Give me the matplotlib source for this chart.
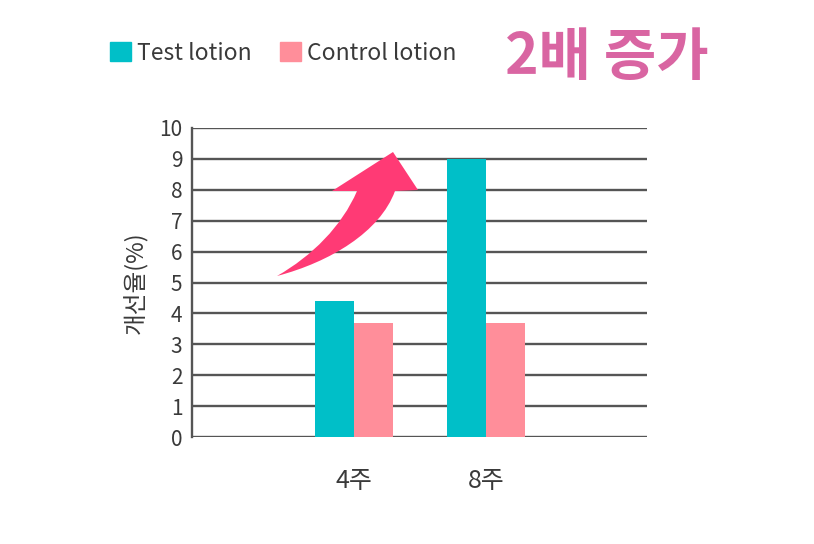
import numpy as np
import matplotlib.pyplot as plt
from matplotlib.path import Path
from matplotlib.patches import PathPatch, Patch

plt.rcParams["font.family"] = ["Noto Sans CJK KR", "DejaVu Sans"]

categories = ["4주", "8주"]
test_lotion = [4.4, 9.0]
control_lotion = [3.7, 3.7]
series_names = ["Test lotion", "Control lotion"]
y_ticks = list(range(0, 11))

TEAL = "#00bfc8"
PINK = "#ff8e9a"
ARROW = "#ff3a75"
HEADLINE = "#d965a2"
GRID = "#555555"
TEXT = "#3a3a3a"

W, H = 814, 544
fig = plt.figure(figsize=(W / 100, H / 100), dpi=100)
ax = fig.add_axes([192 / W, 1 - 437 / H, (647 - 192) / W, (437 - 128) / H])

x = np.arange(len(categories))
width = 0.295
ax.bar(x - width / 2, test_lotion, width, color=TEAL, zorder=3)
ax.bar(x + width / 2, control_lotion, width, color=PINK, zorder=3)

ax.set_xlim(-1.22, 2.215)
ax.set_ylim(0, 10)
ax.set_yticks(y_ticks)
ax.set_xticks(x, labels=categories)
for y in y_ticks:
    ax.axhline(y, color=GRID, lw=1.7, zorder=1)
for side in ["top", "right", "bottom"]:
    ax.spines[side].set_visible(False)
ax.spines["left"].set_color(GRID)
ax.spines["left"].set_linewidth(1.7)
ax.tick_params(axis="both", length=0, colors=TEXT)
ax.tick_params(axis="y", pad=7, labelsize=15)
ax.tick_params(axis="x", pad=22, labelsize=18)
ax.set_ylabel("개선율(%)", fontsize=17, color=TEXT, labelpad=8)

# legend at the top left
handles = [Patch(color=TEAL), Patch(color=PINK)]
fig.legend(handles, series_names, loc="center left",
           bbox_to_anchor=(110 / W, 1 - 53 / H), ncol=2, frameon=False,
           fontsize=16.5, handlelength=0.92, handleheight=0.92,
           handletextpad=0.25, columnspacing=1.25, labelcolor=TEXT,
           borderpad=0, borderaxespad=0)

fig.text(505 / W, 1 - 58 / H, "2배 증가", fontsize=41, fontweight="bold",
         color=HEADLINE, va="center", ha="left")

# tapered curved arrow (figure pixel coords, y downward)
pts = [
    (277, 276), (330, 262), (380, 232), (395, 191),
    (418, 190), (393, 152), (332, 191), (357, 191),
    (342, 226), (312, 256), (277, 276), (277, 276),
]
codes = [Path.MOVETO, Path.CURVE4, Path.CURVE4, Path.CURVE4,
         Path.LINETO, Path.LINETO, Path.LINETO, Path.LINETO,
         Path.CURVE4, Path.CURVE4, Path.CURVE4, Path.CLOSEPOLY]
verts = [(px / W, 1 - py / H) for px, py in pts]
fig.patches.append(PathPatch(Path(verts, codes), transform=fig.transFigure,
                             facecolor=ARROW, edgecolor="none", zorder=5))

fig.savefig("out.png", dpi=100)
